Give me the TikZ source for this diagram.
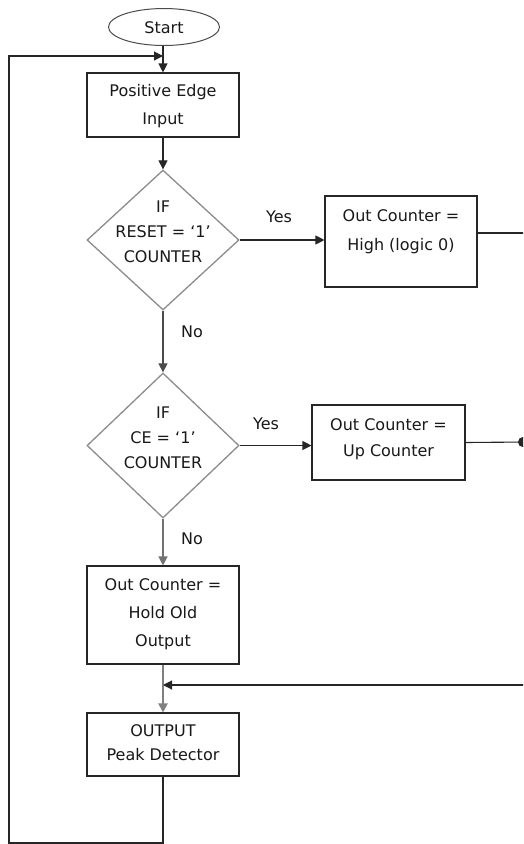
\documentclass[tikz,border=0pt]{standalone}
\usepackage{fontspec}
\setmainfont{DejaVu Sans}
\usetikzlibrary{arrows.meta,shapes.geometric,calc}
\begin{document}
\begin{tikzpicture}[x=1pt,y=-1pt,
  txt/.style={inner sep=0pt, align=center, text=black!90},
  sz/.style={font=\fontsize{16}{#1}\selectfont},
  box/.style={draw=black!85, line width=1.1pt, inner sep=0pt},
  decision/.style={diamond, draw=black!45, line width=1.3pt, inner sep=0pt,
    minimum width=152pt, minimum height=#1},
  terminal/.style={ellipse, draw=black!70, line width=1pt, inner sep=0pt,
    minimum width=111pt, minimum height=37pt},
  tip/.style={-{Triangle[length=9pt,width=9pt]}},
  wire/.style={line width=1.1pt, draw=black!85},
  flow/.style={wire, tip},
  greyflow/.style={line width=1.2pt, draw=black!#1, tip},
]
\clip (0,0) rectangle (523,844);
\fill[white] (0,0) rectangle (523,844);

% main column
\node[terminal] (start) at (164,27) {};
\node[txt, sz=20] (starttxt) at (164,28) {Start};

\node[box, minimum width=152pt, minimum height=64pt] (b1) at (163,105) {};
\node[txt, sz=28] (b1txt) at (163,106) {Positive Edge\\Input};

\node[decision=140pt] (d1) at (163,240) {};
\node[txt, sz=25] (d1txt) at (163,232) {IF\\RESET = ‘1’\\COUNTER};

\node[decision=145pt] (d2) at (163,445.5) {};
\node[txt, sz=25] (d2txt) at (163,438) {IF\\CE = ‘1’\\COUNTER};

\node[box, minimum width=152pt, minimum height=98pt] (b4) at (163,615) {};
\node[txt, sz=28] (b4txt) at (163,614) {Out Counter =\\Hold Old\\Output};

\node[box, minimum width=152pt, minimum height=63pt] (b5) at (163,744.5) {};
\node[txt, sz=24] (b5txt) at (163,743) {OUTPUT\\Peak Detector};

% branch boxes
\node[box, minimum width=152pt, minimum height=91pt] (b2) at (401,241.5) {};
\node[txt, sz=29] (b2txt) at (401,232) {Out Counter =\\High (logic 0)};

\node[box, minimum width=153pt, minimum height=75pt] (b3) at (388.5,442.5) {};
\node[txt, sz=26] (b3txt) at (388.5,439) {Out Counter =\\Up Counter};

% branch labels
\node[txt, sz=20] (yes1) at (279,217) {Yes};
\node[txt, sz=20] (no1) at (192,332) {No};
\node[txt, sz=20] (yes2) at (266,424) {Yes};
\node[txt, sz=20] (no2) at (192,539) {No};

% connectors
\draw[flow] (start.south -| b1.north) -- (b1.north);
\draw[flow] (b1.south) -- (d1.north);
\draw[flow] (d1.east) -- (d1.east -| b2.west);
\draw[greyflow=70] (d1.south) -- (d2.north);
\draw[flow] (d2.east) -- (d2.east -| b3.west);
\draw[greyflow=55] (d2.south) -- (b4.north);
\draw[line width=2pt, draw=black!50, tip] (b4.south) -- (b5.north);

\coordinate (r1) at (524,233);
\draw[wire] (r1 -| b2.east) -- (r1);

\coordinate (r2) at (528,442);
\draw[wire, -{Circle[length=10pt]}] (b3.east) -- (r2);

\coordinate (r3) at (524,685);
\draw[flow] (r3) -- (r3 -| b4.south);

% feedback loop back to the input
\coordinate (c1) at (9,843);
\coordinate (lp) at (163,56);
\draw[flow] (b5.south) |- (c1) |- (lp);
\end{tikzpicture}
\end{document}
